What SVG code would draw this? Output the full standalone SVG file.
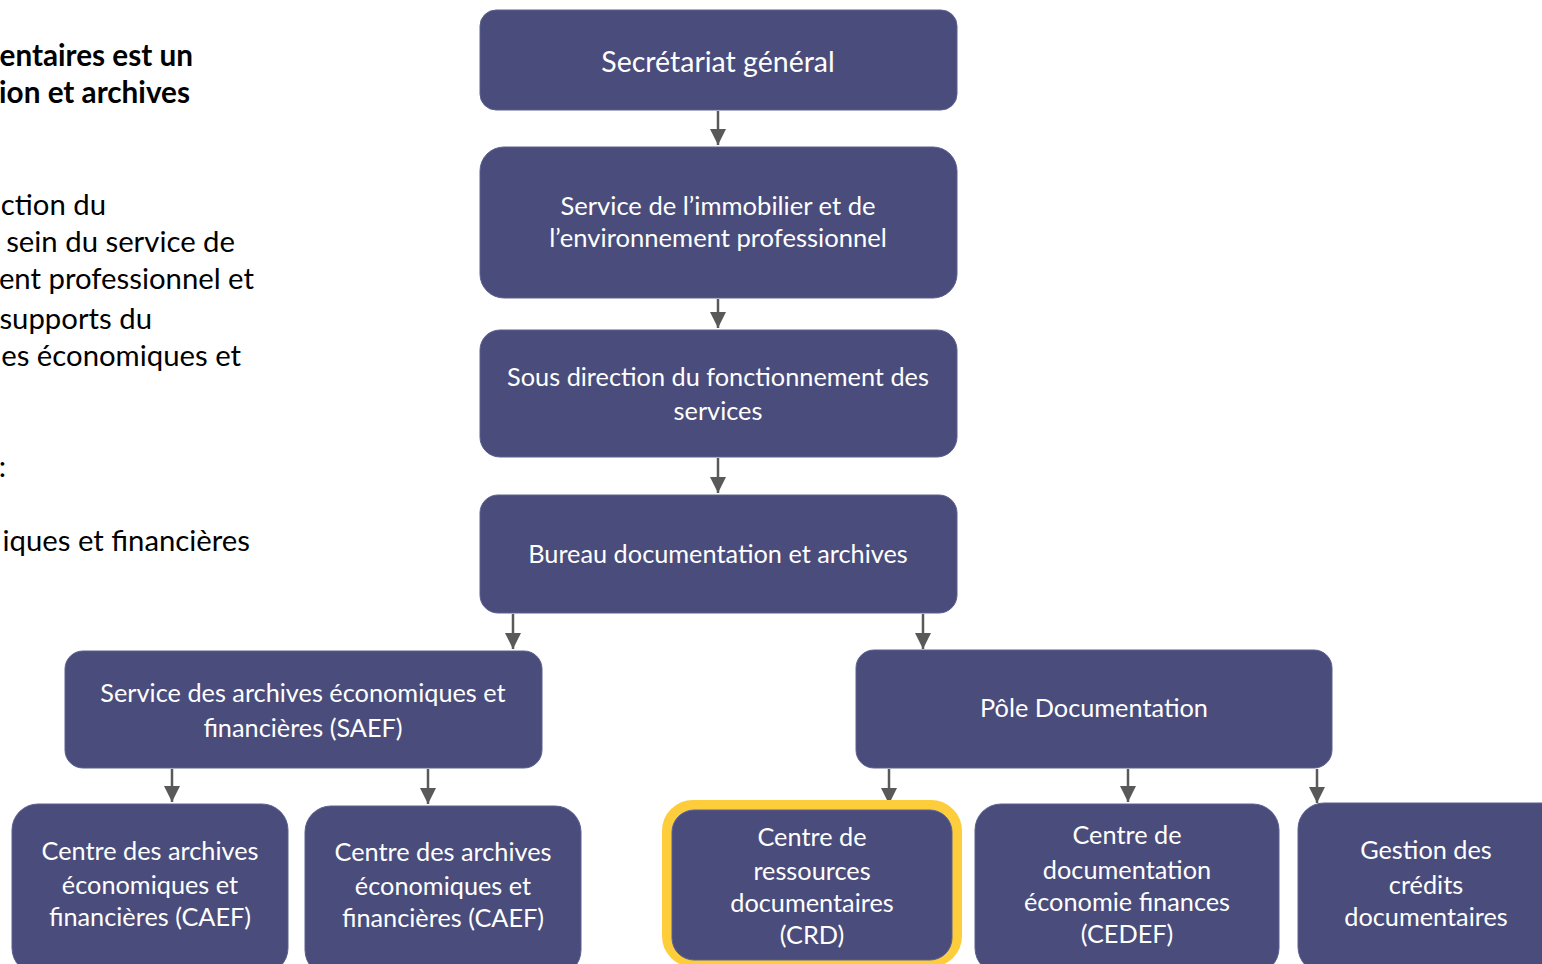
<svg xmlns="http://www.w3.org/2000/svg" width="1542" height="964" viewBox="0 0 1542 964">
<defs>
<style>
.n{fill:#4a4d7b;stroke:#5c6090;stroke-width:1}
.t{font-family:Lato,"Liberation Sans",sans-serif;fill:#ffffff;text-anchor:middle;font-size:25.3px}
.s{font-family:Lato,"Liberation Sans",sans-serif;fill:#000000;text-anchor:end;font-size:29.3px}
.b{font-weight:bold;font-size:29.7px}
.c{stroke:#595959;stroke-width:2.5;fill:none;marker-end:url(#ah)}
</style>
<marker id="ah" viewBox="0 0 10 10" refX="10" refY="5" markerWidth="6.5" markerHeight="6.5" markerUnits="strokeWidth" orient="auto">
<path d="M0,0 L10,5 L0,10 z" fill="#595959"/>
</marker>
</defs>
<rect width="1542" height="964" fill="#ffffff"/>
<g id="sidetext">
<text class="s b" x="193" y="66">entaires est un</text>
<text class="s b" x="190" y="103">ion et archives</text>
<text class="s" x="106" y="215">ction du</text>
<text class="s" x="235" y="252">sein du service de</text>
<text class="s" x="254" y="289">ent professionnel et</text>
<text class="s" x="152" y="329">supports du</text>
<text class="s" x="241" y="366">es économiques et</text>
<text class="s" x="6" y="477">:</text>
<text class="s" x="250" y="551">iques et financières</text>
</g>
<g id="connectors">
<line class="c" x1="718" y1="111" x2="718" y2="145"/>
<line class="c" x1="718" y1="299" x2="718" y2="328"/>
<line class="c" x1="718" y1="458" x2="718" y2="493"/>
<line class="c" x1="513" y1="614" x2="513" y2="649"/>
<line class="c" x1="923" y1="614" x2="923" y2="649"/>
<line class="c" x1="172" y1="769" x2="172" y2="802"/>
<line class="c" x1="428" y1="769" x2="428" y2="804"/>
<line class="c" x1="889" y1="769" x2="889" y2="804"/>
<line class="c" x1="1128" y1="769" x2="1128" y2="802"/>
<line class="c" x1="1317" y1="769" x2="1317" y2="803"/>
</g>
<g id="n1">
<rect class="n" x="480" y="10" width="477" height="100" rx="16"/>
<text class="t" x="718" y="72" style="font-size:28.5px">Secrétariat général</text>
</g>
<g id="n2">
<rect class="n" x="480" y="147" width="477" height="151" rx="24"/>
<text class="t" x="718" y="215" style="font-size:25.6px">Service de l’immobilier et de</text>
<text class="t" x="718" y="247" style="font-size:25.6px">l’environnement professionnel</text>
</g>
<g id="n3">
<rect class="n" x="480" y="330" width="477" height="127" rx="20"/>
<text class="t" x="718" y="386">Sous direction du fonctionnement des</text>
<text class="t" x="718" y="420">services</text>
</g>
<g id="n4">
<rect class="n" x="480" y="495" width="477" height="118" rx="18"/>
<text class="t" x="718" y="563">Bureau documentation et archives</text>
</g>
<g id="n5">
<rect class="n" x="65" y="651" width="477" height="117" rx="18"/>
<text class="t" x="303" y="702">Service des archives économiques et</text>
<text class="t" x="303" y="737">financières (SAEF)</text>
</g>
<g id="n6">
<rect class="n" x="856" y="650" width="476" height="118" rx="18"/>
<text class="t" x="1094" y="717">Pôle Documentation</text>
</g>
<g id="n7">
<rect class="n" x="12" y="804" width="276" height="170" rx="26"/>
<text class="t" x="150" y="860">Centre des archives</text>
<text class="t" x="150" y="894">économiques et</text>
<text class="t" x="150" y="926">financières (CAEF)</text>
</g>
<g id="n8">
<rect class="n" x="305" y="806" width="276" height="170" rx="26"/>
<text class="t" x="443" y="861">Centre des archives</text>
<text class="t" x="443" y="895">économiques et</text>
<text class="t" x="443" y="927">financières (CAEF)</text>
</g>
<g id="n9">
<rect x="667" y="805" width="290" height="157" rx="26" fill="none" stroke="#fdcd3b" stroke-width="10"/>
<rect class="n" x="672" y="810" width="280" height="150" rx="22"/>
<text class="t" x="812" y="846">Centre de</text>
<text class="t" x="812" y="880">ressources</text>
<text class="t" x="812" y="912">documentaires</text>
<text class="t" x="812" y="944">(CRD)</text>
</g>
<g id="n10">
<rect class="n" x="975" y="804" width="304" height="170" rx="26"/>
<text class="t" x="1127" y="844">Centre de</text>
<text class="t" x="1127" y="879">documentation</text>
<text class="t" x="1127" y="911">économie finances</text>
<text class="t" x="1127" y="943">(CEDEF)</text>
</g>
<g id="n11">
<rect class="n" x="1298" y="803" width="270" height="170" rx="26"/>
<text class="t" x="1426" y="859">Gestion des</text>
<text class="t" x="1426" y="894">crédits</text>
<text class="t" x="1426" y="926">documentaires</text>
</g>
</svg>
